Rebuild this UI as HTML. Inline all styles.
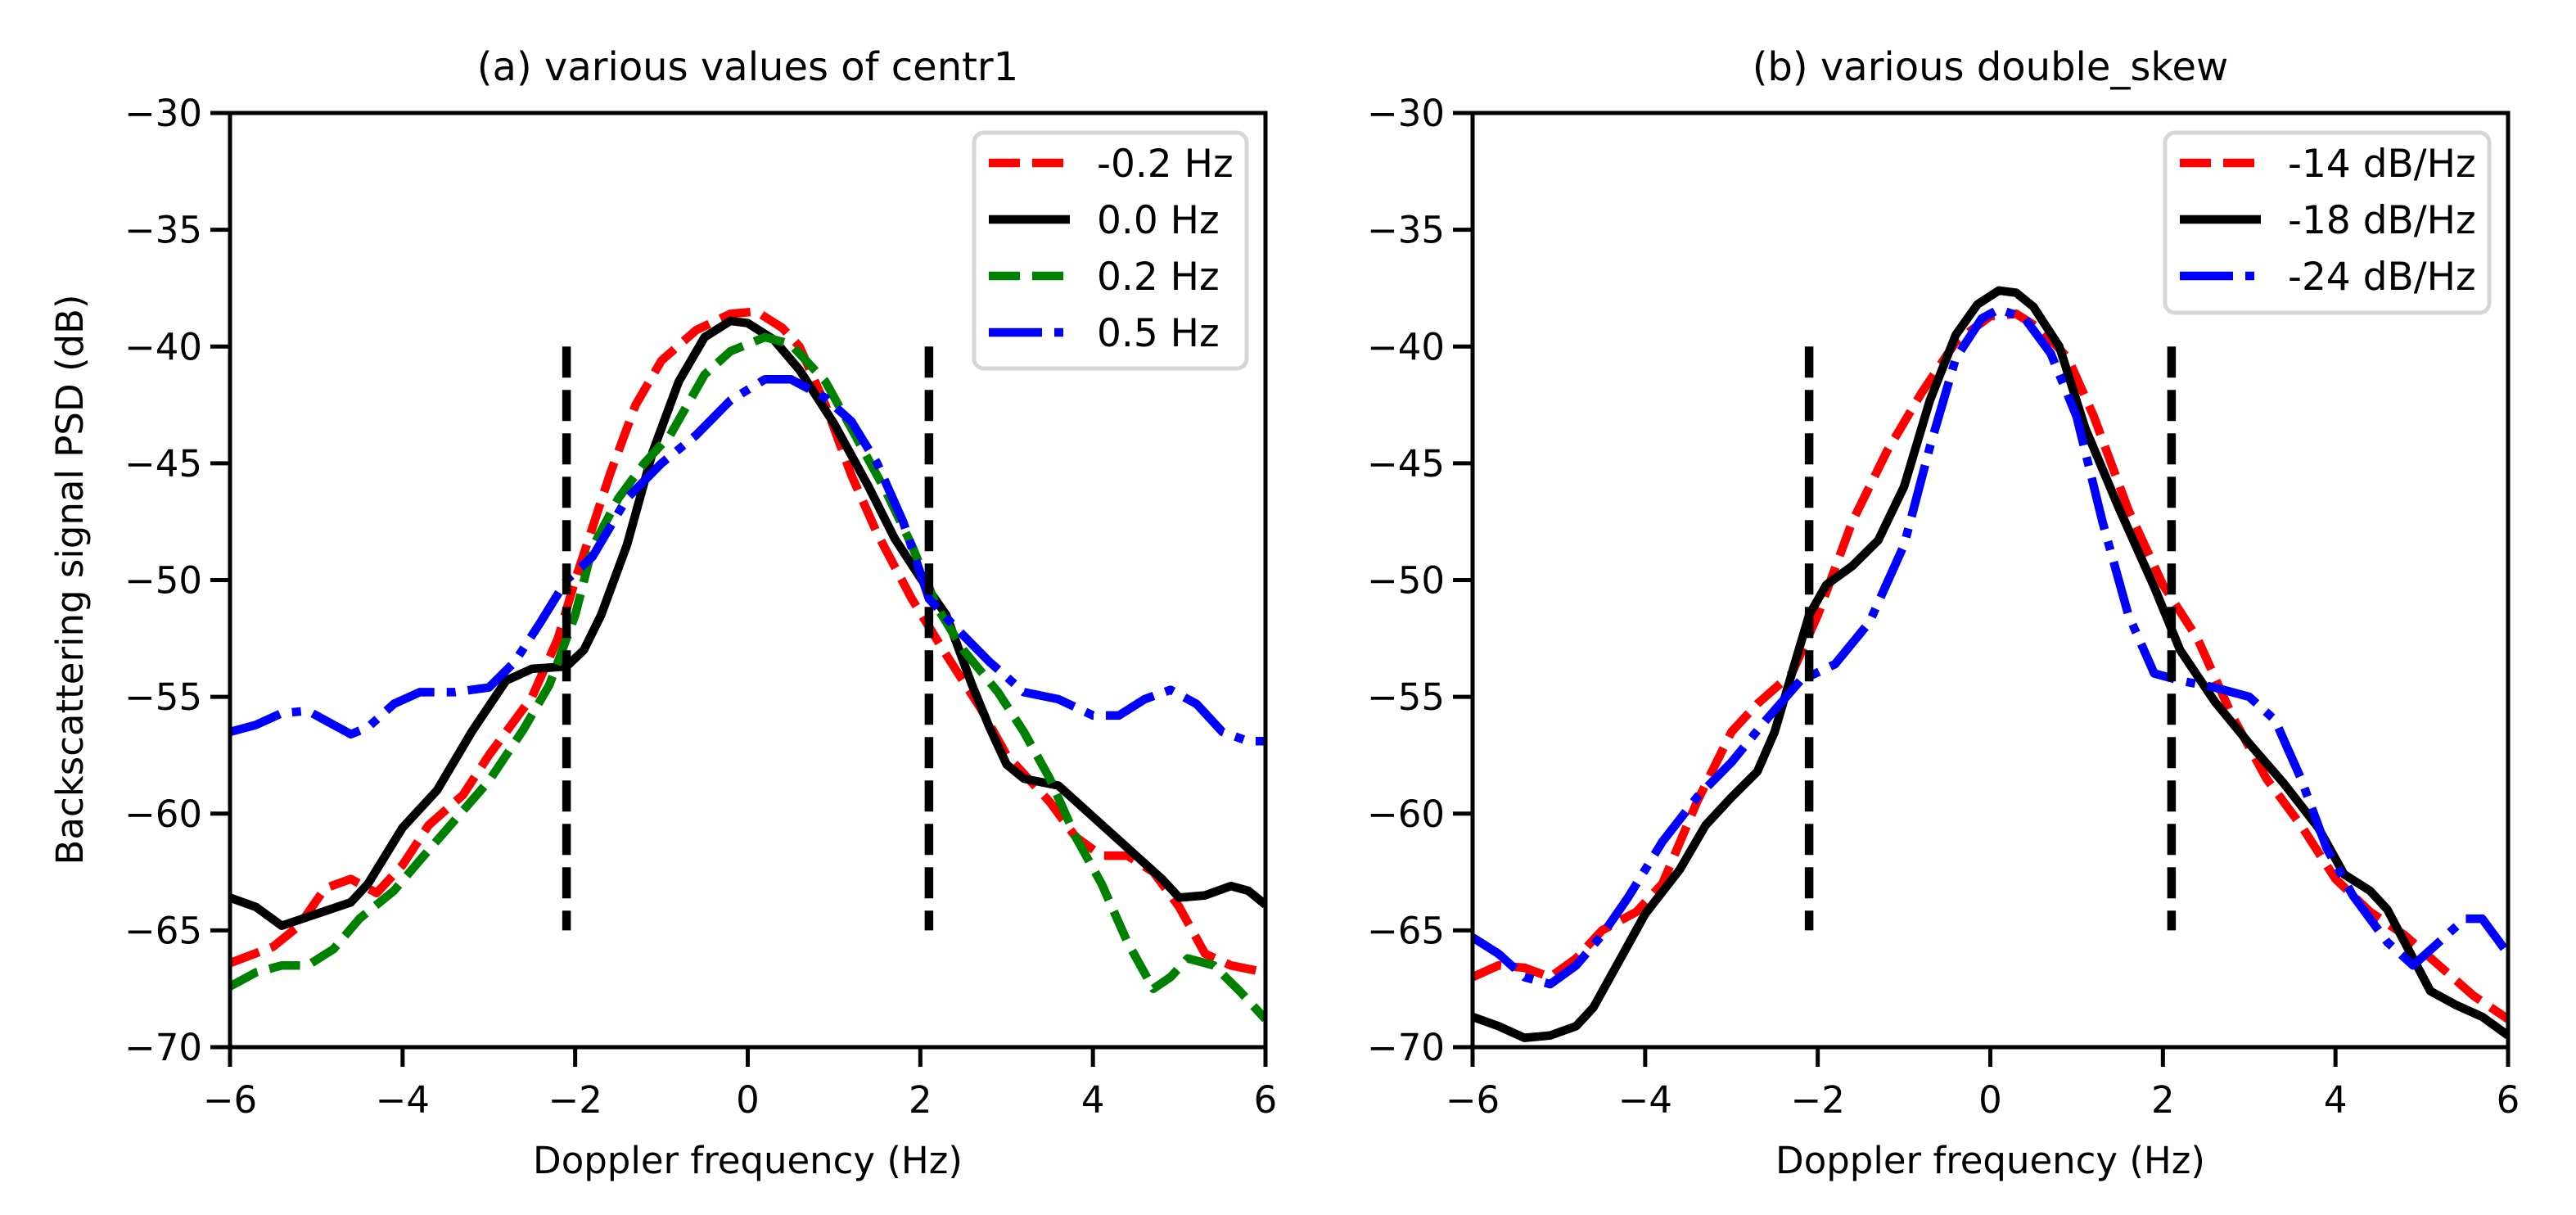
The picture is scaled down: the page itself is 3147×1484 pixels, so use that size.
<!DOCTYPE html>
<html><head><meta charset="utf-8"><style>
html,body{margin:0;padding:0;background:#fff;}
svg{display:block;font-family:"DejaVu Sans","Liberation Sans",sans-serif;}
</style></head><body>
<svg id="fig" width="3147" height="1484" viewBox="0 0 3147 1484" xmlns="http://www.w3.org/2000/svg">
<rect width="3147" height="1484" fill="#fff"/>
</svg>
<script>
const xTicks = [-6, -4, -2, 0, 2, 4, 6];
const yTicks = [-30, -35, -40, -45, -50, -55, -60, -65, -70];
const vlinesX = [-2.1, 2.1];
const vlineRange = [-40, -65];

const aX_m02 = [-6,-5.5,-5.2,-4.9,-4.6,-4.3,-4.0,-3.7,-3.3,-3.0,-2.5,-2.2,-2.0,-1.6,-1.3,-1.0,-0.6,-0.2,0.1,0.4,0.6,0.9,1.2,1.5,1.9,2.3,2.7,3.0,3.5,3.8,4.1,4.4,4.7,5.0,5.3,5.6,6];
const aY_m02 = [-66.4,-65.7,-64.8,-63.2,-62.8,-63.4,-62.2,-60.5,-59.2,-57.5,-55,-52.5,-50,-45.5,-42.5,-40.6,-39.3,-38.6,-38.5,-39.2,-40,-42.5,-45.5,-48,-50.8,-53.2,-55.5,-57.5,-59.5,-61,-61.8,-61.8,-62.5,-64,-66,-66.5,-66.8];
const aX_00 = [-6,-5.7,-5.4,-5,-4.6,-4.4,-4,-3.6,-3.2,-2.8,-2.5,-2.1,-1.9,-1.7,-1.4,-1.1,-0.8,-0.5,-0.2,0,0.3,0.6,1.0,1.4,1.7,2.0,2.3,2.6,2.8,3.0,3.2,3.6,3.9,4.2,4.5,4.8,5.0,5.3,5.6,5.8,6];
const aY_00 = [-63.6,-64.0,-64.8,-64.3,-63.8,-63,-60.6,-59,-56.5,-54.3,-53.8,-53.7,-53,-51.5,-48.5,-44.5,-41.5,-39.6,-38.9,-39,-39.7,-41,-43.3,-46,-48.2,-49.9,-51.5,-54.5,-56.3,-57.9,-58.5,-58.8,-59.8,-60.8,-61.8,-62.8,-63.6,-63.5,-63.1,-63.3,-63.9];
const aX_02 = [-6,-5.7,-5.4,-5.1,-4.8,-4.5,-4.1,-3.8,-3.4,-3.0,-2.6,-2.3,-2.0,-1.8,-1.5,-1.2,-0.9,-0.5,-0.2,0.2,0.5,0.9,1.2,1.6,1.9,2.2,2.5,2.9,3.2,3.5,3.8,4.1,4.4,4.7,4.9,5.1,5.4,5.7,6];
const aY_02 = [-67.4,-66.8,-66.5,-66.5,-65.8,-64.5,-63.3,-62,-60.3,-58.6,-56.4,-54.5,-51.5,-48.6,-46.5,-45,-43.8,-41.2,-40.2,-39.6,-39.9,-41.5,-43.5,-46.2,-48.5,-51.2,-53,-54.8,-56.5,-58.5,-61,-63,-65.5,-67.5,-67,-66.2,-66.5,-67.6,-68.8];
const aX_05 = [-6,-5.7,-5.4,-5.1,-4.9,-4.6,-4.4,-4.1,-3.8,-3.4,-3.0,-2.7,-2.4,-2.1,-1.8,-1.4,-1.0,-0.6,-0.2,0.2,0.5,0.9,1.2,1.5,1.8,2.1,2.4,2.8,3.2,3.6,4.0,4.3,4.6,4.9,5.2,5.5,5.8,6];
const aY_05 = [-56.5,-56.2,-55.7,-55.6,-56,-56.6,-56.3,-55.3,-54.8,-54.8,-54.6,-53.5,-51.8,-50,-49,-46.5,-45,-43.8,-42.3,-41.4,-41.4,-42.2,-43.2,-45,-47.5,-50.8,-52,-53.5,-54.8,-55.1,-55.8,-55.8,-55.1,-54.7,-55.3,-56.5,-56.9,-56.9];

const bX_14 = [-6,-5.7,-5.4,-5.1,-4.8,-4.5,-4.1,-3.8,-3.4,-3.0,-2.7,-2.3,-2.0,-1.6,-1.2,-0.8,-0.4,0,0.3,0.6,0.9,1.2,1.6,2.0,2.4,2.8,3.2,3.6,4.0,4.4,4.8,5.2,5.6,6];
const bY_14 = [-67,-66.5,-66.6,-67,-66.2,-65,-64.2,-63,-59.5,-56.5,-55.3,-54,-51.5,-47.5,-44.5,-42,-39.8,-38.7,-38.6,-39.3,-40.5,-43,-47,-50.2,-52.5,-55.8,-58.5,-60.5,-62.8,-64.2,-65.2,-66.5,-67.8,-68.8];
const bX_18 = [-6,-5.7,-5.4,-5.1,-4.8,-4.6,-4.3,-4.0,-3.6,-3.3,-3.0,-2.7,-2.5,-2.3,-2.1,-1.9,-1.6,-1.3,-1.0,-0.7,-0.4,-0.15,0.1,0.3,0.5,0.8,1.1,1.5,1.9,2.2,2.6,3.0,3.4,3.8,4.1,4.4,4.6,4.8,5.1,5.4,5.7,6];
const bY_18 = [-68.7,-69.1,-69.6,-69.5,-69.1,-68.3,-66.3,-64.3,-62.4,-60.5,-59.3,-58.2,-56.5,-54,-51.5,-50.2,-49.4,-48.3,-46,-42.3,-39.5,-38.2,-37.6,-37.7,-38.3,-40,-43.5,-47,-50.3,-53,-55.2,-57,-58.7,-60.6,-62.6,-63.3,-64.1,-65.5,-67.6,-68.2,-68.7,-69.5];
const bX_24 = [-6,-5.7,-5.4,-5.1,-4.8,-4.5,-4.2,-3.8,-3.4,-3.0,-2.6,-2.2,-1.8,-1.4,-1.0,-0.7,-0.4,-0.1,0.1,0.4,0.7,1.0,1.3,1.6,1.9,2.2,2.6,3.0,3.3,3.6,3.9,4.2,4.6,4.9,5.2,5.5,5.7,6];
const bY_24 = [-65.3,-66,-67,-67.3,-66.5,-65.2,-63.6,-61.2,-59.3,-57.8,-56,-54.3,-53.6,-51.8,-48.5,-44.3,-40.5,-38.8,-38.4,-38.8,-40.3,-43,-47.5,-51.5,-54,-54.3,-54.6,-55,-56,-58.5,-61.5,-63.5,-65.5,-66.5,-65.5,-64.5,-64.5,-66];

const NS = "http://www.w3.org/2000/svg";
const svg = document.getElementById('fig');
const Y0 = 138, Y1 = 1279;
const LW = 10.5;
const DASH = "38,15";
const DASHDOT = "65,15,11,15";

function mk(tag, attrs, parent) {
  const e = document.createElementNS(NS, tag);
  for (const k in attrs) e.setAttribute(k, attrs[k]);
  (parent || svg).appendChild(e);
  return e;
}

function panel(p) {
  const g = mk('g', {});
  
  
  const sx = v => p.x0 + (v + 6) / 12 * (p.x1 - p.x0);
  const sy = v => Y0 + (-30 - v) / 40 * (Y1 - Y0);
  const clipId = p.name + '-clip';
  const cp = mk('clipPath', {id: clipId}, g);
  mk('rect', {x: p.x0, y: Y0, width: p.x1 - p.x0, height: Y1 - Y0}, cp);
  const dg = mk('g', {'clip-path': 'url(#' + clipId + ')'}, g);
  p.series.forEach(s => {
    let d = '';
    s.x.forEach((v, i) => { d += (i ? 'L' : 'M') + sx(v).toFixed(1) + ',' + sy(s.y[i]).toFixed(1); });
    const path = mk('path', {d: d, fill: 'none', stroke: s.color, 'stroke-width': LW, 'stroke-linejoin': 'round'}, dg);
    if (s.dash) path.setAttribute('stroke-dasharray', s.dash);
    
    
  });
  vlinesX.forEach((v, i) => {
    const l = mk('line', {x1: sx(v), x2: sx(v), y1: sy(vlineRange[0]), y2: sy(vlineRange[1]), stroke: '#000', 'stroke-width': LW, 'stroke-dasharray': DASH}, g);
    
    
  });
  const frame = mk('rect', {x: p.x0, y: Y0, width: p.x1 - p.x0, height: Y1 - Y0, fill: 'none', stroke: '#000', 'stroke-width': 5}, g);
  
  
  xTicks.forEach(v => {
    mk('line', {x1: sx(v), x2: sx(v), y1: Y1, y2: Y1 + 24, stroke: '#000', 'stroke-width': 5}, g);
    const t = mk('text', {x: sx(v), y: Y1 + 80, 'text-anchor': 'middle', 'font-size': 45}, g);
    t.textContent = v < 0 ? '\u2212' + Math.abs(v) : String(v);
    
    
  });
  yTicks.forEach(v => {
    mk('line', {x1: p.x0 - 24, x2: p.x0, y1: sy(v), y2: sy(v), stroke: '#000', 'stroke-width': 5}, g);
    const t = mk('text', {x: p.x0 - 34, y: sy(v) + 16, 'text-anchor': 'end', 'font-size': 45}, g);
    t.textContent = '\u2212' + Math.abs(v);
    
    
  });
  const title = mk('text', {x: (p.x0 + p.x1) / 2, y: 98, 'text-anchor': 'middle', 'font-size': 48}, g);
  title.textContent = p.title;
  
  
  const xl = mk('text', {x: (p.x0 + p.x1) / 2, y: 1433, 'text-anchor': 'middle', 'font-size': 45}, g);
  xl.textContent = 'Doppler frequency (Hz)';
  
  
  const lg = mk('g', {}, g);
  
  
  mk('rect', {x: p.leg[0], y: 162, width: p.leg[1] - p.leg[0], height: p.legH, rx: 12, fill: '#fff', 'fill-opacity': 0.8, stroke: '#d6d6d6', 'stroke-width': 5}, lg);
  p.series.forEach((s, i) => {
    const y = 199 + i * 69;
    const e = mk('g', {}, lg);
    
    
    const l = mk('line', {x1: p.leg[0] + 18, x2: p.leg[0] + 117, y1: y, y2: y, stroke: s.color, 'stroke-width': LW}, e);
    if (s.dash) l.setAttribute('stroke-dasharray', s.dash);
    const t = mk('text', {x: p.leg[0] + 150, y: y + 17, 'font-size': 47}, e);
    t.textContent = s.label;
  });
}

panel({name: 'panel-a', x0: 281, x1: 1546, title: '(a) various values of centr1', leg: [1190, 1523], legH: 288,
  series: [
    {id: 'series-minus-0-2-hz', label: '-0.2 Hz', color: '#ff0000', dash: DASH, x: aX_m02, y: aY_m02},
    {id: 'series-0-0-hz', label: '0.0 Hz', color: '#000000', dash: null, x: aX_00, y: aY_00},
    {id: 'series-0-2-hz', label: '0.2 Hz', color: '#008000', dash: DASH, x: aX_02, y: aY_02},
    {id: 'series-0-5-hz', label: '0.5 Hz', color: '#0000ff', dash: DASHDOT, x: aX_05, y: aY_05}
  ]});
panel({name: 'panel-b', x0: 1799, x1: 3064, title: '(b) various double_skew', leg: [2645, 3041], legH: 220,
  series: [
    {id: 'series-minus-14-db', label: '-14 dB/Hz', color: '#ff0000', dash: DASH, x: bX_14, y: bY_14},
    {id: 'series-minus-18-db', label: '-18 dB/Hz', color: '#000000', dash: null, x: bX_18, y: bY_18},
    {id: 'series-minus-24-db', label: '-24 dB/Hz', color: '#0000ff', dash: DASHDOT, x: bX_24, y: bY_24}
  ]});

const yl = mk('text', {x: 0, y: 0, 'text-anchor': 'middle', 'font-size': 45, transform: 'translate(101,708) rotate(-90)'});
yl.textContent = 'Backscattering signal PSD (dB)';


</script>
</body></html>
